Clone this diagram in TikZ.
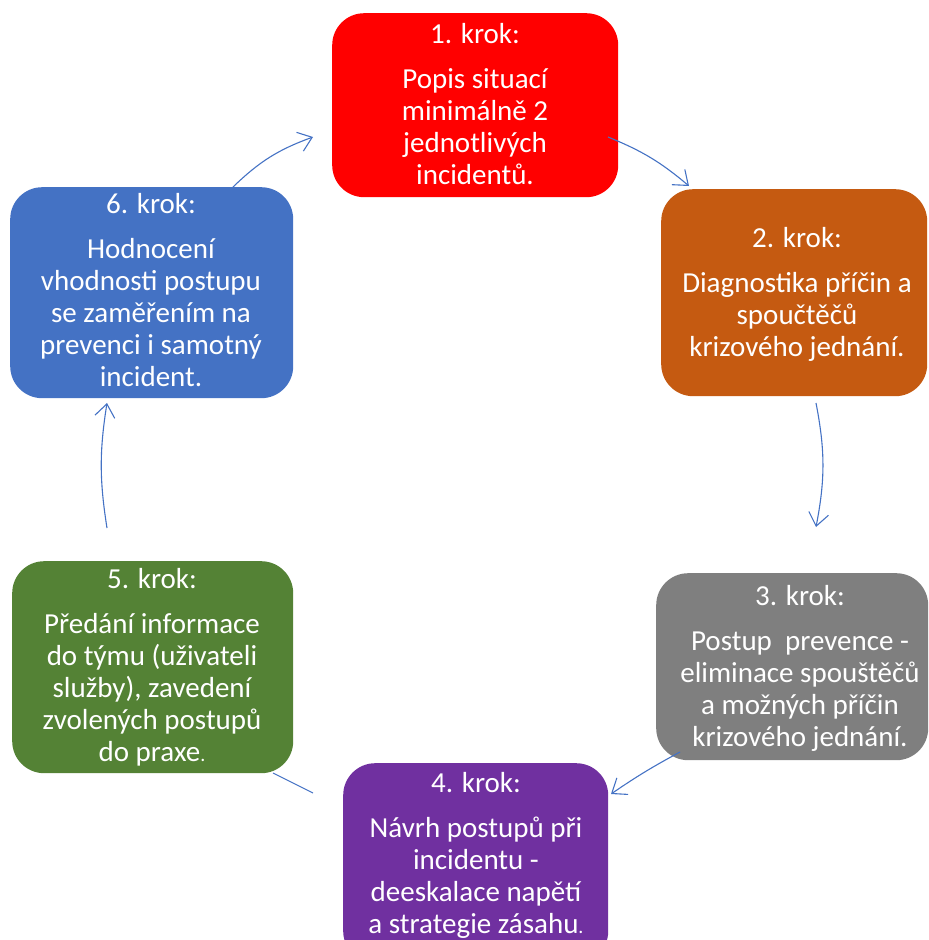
\documentclass[tikz,border=0pt]{standalone}
\usepackage{fontspec}
\setmainfont{Carlito}
\usetikzlibrary{arrows.meta}
\definecolor{c1}{HTML}{FF0000}
\definecolor{c2}{HTML}{C55A11}
\definecolor{c3}{HTML}{7F7F7F}
\definecolor{c4}{HTML}{7030A0}
\definecolor{c5}{HTML}{548235}
\definecolor{c6}{HTML}{4472C4}
\definecolor{arr}{HTML}{4472C4}
\begin{document}
\begin{tikzpicture}[x=1pt,y=-1pt,
 stepbox/.style={rounded corners=32pt, inner sep=0pt, draw=none, anchor=north west},
 steptext/.style={text=white, align=center, font=\fontsize{29}{32}\selectfont, inner sep=0pt, anchor=north},
 conn/.style={draw=arr, line width=1.1pt, -{Straight Barb[length=13pt,width=20pt]}},
 plain/.style={draw=arr, line width=1.1pt},
]
\useasboundingbox (0,0) rectangle (929,940);
\clip (0,0) rectangle (929,940);

\node[stepbox, fill=c1, minimum width=286pt, minimum height=184pt] (s1) at (332,13) {};
\node[stepbox, fill=c2, minimum width=266pt, minimum height=207pt] (s2) at (661,189) {};
\node[stepbox, fill=c3, minimum width=272pt, minimum height=187pt] (s3) at (656,573) {};
\node[stepbox, fill=c4, minimum width=265pt, minimum height=200pt] (s4) at (343,763) {};
\node[stepbox, fill=c5, minimum width=281pt, minimum height=212pt] (s5) at (12,561) {};
\node[stepbox, fill=c6, minimum width=283pt, minimum height=211pt] (s6) at (10,187) {};

\node[steptext] (t1) at (475,21) {\rule{0pt}{22pt}1. krok:\\[13pt] Popis situací\\ minimálně 2\\ jednotlivých\\ incidentů.};
\node[steptext] (t2) at (797,225) {\rule{0pt}{22pt}2. krok:\\[13pt] Diagnostika příčin a\\ spoučtěčů\\ krizového jednání.};
\node[steptext] (t3) at (800,583) {\rule{0pt}{22pt}3. krok:\\[13pt] Postup\ \ prevence -\\ eliminace spouštěčů\\ a možných příčin\\ krizového jednání.};
\node[steptext] (t4) at (476,770) {\rule{0pt}{22pt}4. krok:\\[13pt] Návrh postupů při\\ incidentu -\\ deeskalace napětí\\ a strategie zásahu{\fontsize{20}{20}\selectfont.}};
\node[steptext] (t5) at (152,566) {\rule{0pt}{22pt}5. krok:\\[13pt] Předání informace\\ do týmu (uživateli\\ služby), zavedení\\ zvolených postupů\\ do praxe{\fontsize{20}{20}\selectfont.}};
\node[steptext] (t6) at (151,191) {\rule{0pt}{22pt}6. krok:\\[13pt] Hodnocení\\ vhodnosti postupu\\ se zaměřením na\\ prevenci i samotný\\ incident.};

\coordinate (a12s) at (608,137);
\coordinate (a12e) at (689,186);
\coordinate (a23s) at (816,403);
\coordinate (a23e) at (816,527);
\coordinate (a34s) at (680,752);
\coordinate (a34e) at (611,794);
\coordinate (a45s) at (313,793);
\coordinate (a45e) at (273,773);
\coordinate (a56s) at (107,528);
\coordinate (a56e) at (107,403);
\coordinate (a61s) at (233,187);
\coordinate (a61e) at (313,137);

\draw[conn] (a12s) to[bend left=9] (a12e);
\draw[conn] (a23s) to[bend left=11] (a23e);
\draw[conn] (a34s) to[bend right=3] (a34e);
\draw[plain] (a45s) -- (a45e);
\draw[conn] (a56s) to[bend left=9] (a56e);
\draw[conn] (a61s) to[bend left=12] (a61e);
\end{tikzpicture}
\end{document}
